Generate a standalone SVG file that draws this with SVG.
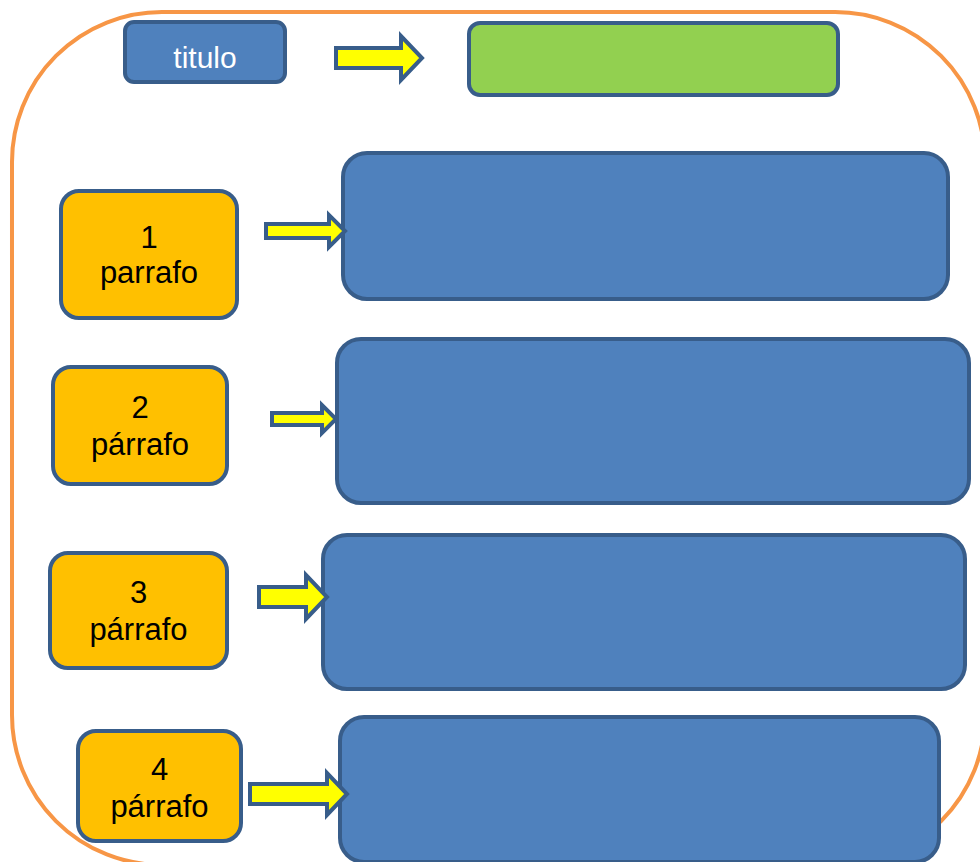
<svg xmlns="http://www.w3.org/2000/svg" width="980" height="862" viewBox="0 0 980 862">
<style>
.frame{fill:none;stroke:#F79646;stroke-width:4}
.blue{fill:#4F81BD;stroke:#385D8A;stroke-width:4}
.green{fill:#92D050;stroke:#385D8A;stroke-width:4}
.orange{fill:#FFC000;stroke:#385D8A;stroke-width:4}
.arrow{fill:#FFFF00;stroke:#385D8A;stroke-width:4;stroke-linejoin:miter}
.lbl{font-family:"Liberation Sans",Arial,sans-serif;font-size:31px;fill:#000;text-anchor:middle}
.ttl{font-family:"Liberation Sans",Arial,sans-serif;font-size:30px;fill:#fff;text-anchor:middle}
</style>
<rect width="980" height="862" fill="#fff"/>
<rect class="frame" x="12" y="12" width="973" height="853" rx="150" ry="150"/>
<g id="titulo"><rect class="blue" x="125" y="22" width="160" height="60" rx="9"/><text class="ttl" x="205" y="68">titulo</text></g>
<g id="titulo-box"><rect class="green" x="469" y="23" width="369" height="72" rx="11"/></g>
<g id="box1"><rect class="blue" x="343" y="153" width="605" height="146" rx="24"/></g>
<g id="box2"><rect class="blue" x="337" y="339" width="632" height="164" rx="24"/></g>
<g id="box3"><rect class="blue" x="323" y="535" width="642" height="154" rx="24"/></g>
<g id="box4"><rect class="blue" x="340" y="717" width="599" height="145" rx="24"/></g>
<g id="p1"><rect class="orange" x="61" y="191" width="176" height="127" rx="18"/><text class="lbl" x="149" y="248">1</text><text class="lbl" x="149" y="283">parrafo</text></g>
<g id="p2"><rect class="orange" x="53" y="367" width="174" height="117" rx="18"/><text class="lbl" x="140" y="418">2</text><text class="lbl" x="140" y="455">párrafo</text></g>
<g id="p3"><rect class="orange" x="50" y="553" width="177" height="115" rx="18"/><text class="lbl" x="138.5" y="603">3</text><text class="lbl" x="138.5" y="640">párrafo</text></g>
<g id="p4"><rect class="orange" x="78" y="731" width="163" height="110" rx="18"/><text class="lbl" x="159.5" y="780">4</text><text class="lbl" x="159.5" y="817">párrafo</text></g>
<g id="connectors">
<polygon class="arrow" points="336,48 401,48 401,36 422,58 401,80 401,68 336,68"/>
<polygon class="arrow" points="266,224 329,224 329,215 345,231 329,247 329,238 266,238"/>
<polygon class="arrow" points="272,413 322,413 322,405 336,419 322,433 322,425 272,425"/>
<polygon class="arrow" points="259,587 306,587 306,575 327,597 306,619 306,607 259,607"/>
<polygon class="arrow" points="250,784 327,784 327,773 347,794 327,815 327,804 250,804"/>
</g>
</svg>
